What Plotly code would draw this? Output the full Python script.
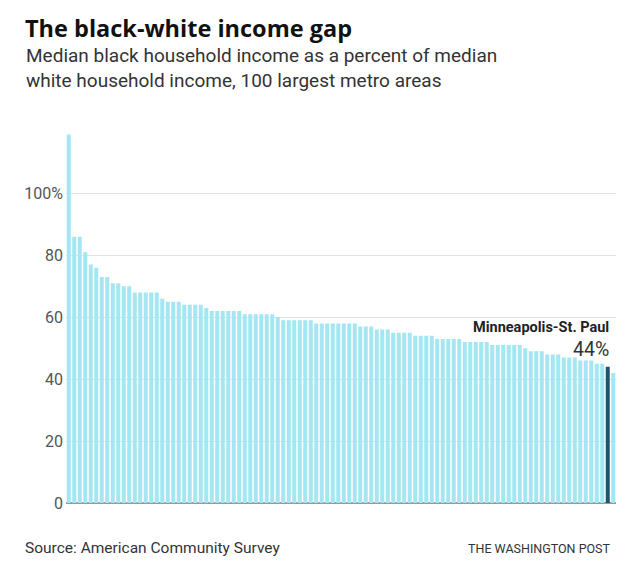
import plotly.graph_objects as go

# Median black household income as % of median white household income (100 metros, sorted)
values = [119, 86, 86, 81, 77, 76, 73, 73, 71, 71,
          70, 70, 68, 68, 68, 68, 68, 66, 65, 65,
          65, 64, 64, 64, 64, 63, 62, 62, 62, 62,
          62, 62, 61, 61, 61, 61, 61, 61, 60, 59,
          59, 59, 59, 59, 59, 58, 58, 58, 58, 58,
          58, 58, 58, 57, 57, 57, 56, 56, 56, 55,
          55, 55, 55, 54, 54, 54, 54, 53, 53, 53,
          53, 53, 52, 52, 52, 52, 52, 51, 51, 51,
          51, 51, 51, 50, 49, 49, 49, 48, 48, 48,
          47, 47, 47, 46, 46, 46, 45, 45, 44, 42]
highlight_index = 98
highlight_name = "Minneapolis-St. Paul"
tick_vals = [0, 20, 40, 60, 80, 100]
tick_text = ["0", "20", "40", "60", "80", "100%"]

LIGHT = "#a4e6f1"
DARK = "#1d5470"

x = list(range(len(values)))
colors = [DARK if i == highlight_index else LIGHT for i in x]

# page has an 8px body margin; work in page coordinates and shift by OFF
OFF = 8
W, H = 624 - 2 * OFF, 568 - 2 * OFF
PL, PR, PT, PB = 66, 616, 133, 503  # plot area in page pixels
ML, MR, MT, MB = PL - OFF, W - (PR - OFF), PT - OFF, H - (PB - OFF)
PW, PH = W - ML - MR, H - MT - MB


def px(xpage):
    return (xpage - OFF - ML) / PW


def py(ypage):
    return (PB - ypage) / PH


fig = go.Figure(go.Bar(x=x, y=values, marker=dict(color=colors, line=dict(width=0)),
                       hoverinfo="y"))

fig.update_layout(
    width=W, height=H,
    margin=dict(l=ML, r=MR, t=MT, b=MB, pad=0),
    paper_bgcolor="white", plot_bgcolor="white",
    bargap=0.27,
    showlegend=False,
    font=dict(family="Roboto", color="#333"),
    xaxis=dict(range=[-0.5, len(values) - 0.5], showticklabels=False, showgrid=False,
               zeroline=False, ticks="", fixedrange=True),
    yaxis=dict(range=[0, 119.5], tickvals=tick_vals, ticktext=tick_text,
               showgrid=True, gridcolor="#e2e2e2", gridwidth=1,
               zeroline=True, zerolinecolor="#999999", zerolinewidth=2,
               tickfont=dict(family="Roboto", size=16, color="#555"),
               ticks="", ticklabelstandoff=2, fixedrange=True),
)

annotations = [
    dict(text="<b>The black-white income gap</b>", x=23, y=28, size=23.5, color="#111",
         anchor="left", family="Open Sans"),
    dict(text="Median black household income as a percent of median<br>"
              "white household income, 100 largest metro areas",
         x=24, y=68, size=19, color="#333", anchor="left", family="Roboto"),
    dict(text="Source: American Community Survey", x=23, y=548, size=15.5, color="#333",
         anchor="left", family="Roboto"),
    dict(text="THE WASHINGTON POST", x=613, y=548, size=12.5, color="#333",
         anchor="right", family="Roboto"),
]
for a in annotations:
    fig.add_annotation(text=a["text"], xref="paper", yref="paper",
                       x=px(a["x"]), y=py(a["y"]),
                       xanchor=a["anchor"], yanchor="middle", showarrow=False,
                       align=a["anchor"],
                       font=dict(family=a["family"], size=a["size"], color=a["color"]))

fig.add_annotation(text="<b>" + highlight_name + "</b>", x=highlight_index + 0.5, y=py(327),
                   xref="x", yref="paper", xanchor="right", yanchor="middle",
                   showarrow=False, font=dict(family="Roboto", size=14.5, color="#222"))
fig.add_annotation(text=f"{values[highlight_index]}%", x=highlight_index + 0.5, y=py(349),
                   xref="x", yref="paper", xanchor="right", yanchor="middle",
                   showarrow=False, font=dict(family="Roboto", size=19.5, color="#333"))

fig.write_html("out.html")
